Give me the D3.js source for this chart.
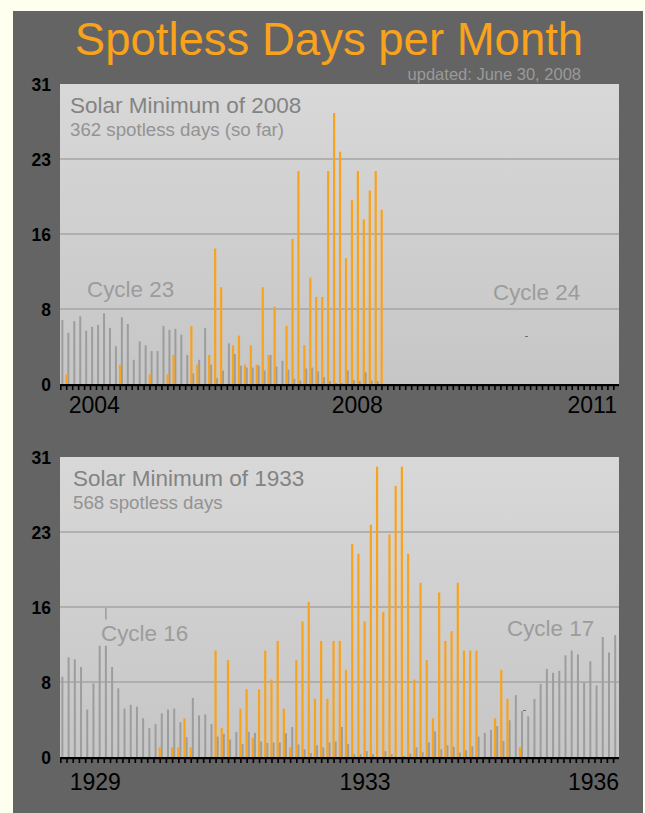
<!DOCTYPE html>
<html>
<head>
<meta charset="utf-8">
<script src="https://cdn.jsdelivr.net/npm/d3@7"></script>
<style>
  body { margin: 0; background: #fffff0; }
  svg { display: block; font-family: "Liberation Sans", Arial, sans-serif; }
</style>
</head>
<body>
<svg id="chart" width="645" height="813"></svg>
<script>
// spotless days per month, Jan 2004 .. Jun 2008
const spotless2008 = [1,0,0,0,0,0,0,0,0,2, 0,0,0,0,1,0,0,1,3,0, 0,6,2,0,3,14,10,0,4,5,
  2,4,2,10,3,8,0,6,15,22, 4,11,9,9,22,28,24,13,19,22, 17,20,22,18]
// monthly sunspot level (grey bars), same months, in chart units
const sunspots2008 = [6.6,5.3,6.5,7.0,5.5,5.9,6.1,7.3,5.8,3.9, 6.9,6.2,2.5,4.4,4.0,3.4,3.4,6.0,5.6,5.7,
  5.1,3.0,1.1,2.5,5.8,2.0,0.6,1.4,4.2,3.1, 1.9,1.7,1.7,1.9,1.4,3.0,1.8,2.4,1.5,0.55,
  0.35,1.6,1.7,1.3,0.7,0.3,0.1,0.1,1.4,0.4, 0.3,1.2,0.35,0.3]

// Jan 1929 .. Jun 1936
const spotless1933 = [0,0,0,0,0,0,0,0,0,0, 0,0,0,0,0,1,0,1,1,4, 1,0,0,0,11,3,10,0,5,7,
  2,7,11,8,12,5,1,10,14,16, 6,12,6,12,12,9,22,21,14,24, 30,15,23,28,30,21,8,18,10,4,
  17,12,13,18,11,11,11,0,0,4, 9,6,0,1,0,0,0,0,0,0, 0,0,0,0,0,0,0,0,0,0]
const sunspots1933 = [8.3,10.3,10.1,9.3,4.9,7.6,11.5,11.5,9.3,7.1, 5.0,5.4,5.2,4.0,3.0,3.4,4.5,4.9,5.0,3.6,
  2.05,6.1,4.3,4.4,3.4,2.1,2.4,1.8,2.6,1.35, 2.6,2.5,1.6,1.45,1.5,1.5,2.45,3.1,1.3,0.8,
  0.4,1.2,1.0,1.5,1.6,3.1,1.35,0.3,0.3,0.6, 0.3,0,0.6,0.3,0,0.1,0.35,1.0,0.5,1.5,
  2.65,0.8,1.2,1.05,0.45,0.7,1.1,2.1,2.5,2.8, 3.2,1.65,3.8,6.4,4.75,4.2,6.0,7.55,9.1,8.7,
  8.9,10.5,11.0,10.6,7.7,9.9,7.4,12.4,10.8,12.6]

const yTicks = [0, 7.75, 15.5, 23.25, 31]
const yTickLabels = ["0", "8", "16", "23", "31"]
const yearLabels2008 = ["2004", "2008", "2011"]
const yearLabels1933 = ["1929", "1933", "1936"]

const svg = d3.select('#chart')
const orange = '#f9a21c', grey = '#9d9d9d'

svg.append('rect').attr('x', 13).attr('y', 11).attr('width', 630).attr('height', 810)
  .attr('fill', '#646464')

const grad = svg.append('defs').append('linearGradient')
  .attr('id', 'bg').attr('x1', 0).attr('y1', 0).attr('x2', 0).attr('y2', 1)
grad.append('stop').attr('offset', '0%').attr('stop-color', '#d8d8d8')
grad.append('stop').attr('offset', '100%').attr('stop-color', '#c6c6c6')

svg.append('text').attr('x', 329).attr('y', 55).attr('text-anchor', 'middle')
  .attr('font-size', 45.5).attr('fill', orange).text('Spotless Days per Month')
svg.append('text').attr('x', 581).attr('y', 80).attr('text-anchor', 'end')
  .attr('font-size', 16.5).attr('fill', '#9a9a9a').text('updated: June 30, 2008')

function panel(opt) {
  const months = d3.timeMonths(opt.start, opt.end)
  const x = d3.scaleBand().domain(d3.range(months.length)).range([60, 619])
  const y = d3.scaleLinear().domain([0, 31]).range([opt.top + 300, opt.top])
  const bw = x.bandwidth()
  const g = svg.append('g')

  g.append('rect').attr('x', 60).attr('y', opt.top).attr('width', 559).attr('height', 300)
    .attr('fill', 'url(#bg)')

  g.selectAll('.grid').data(yTicks.slice(1, 4)).join('line')
    .attr('x1', 60).attr('x2', 619)
    .attr('y1', d => y(d)).attr('y2', d => y(d))
    .attr('stroke', '#a4a4a4').attr('stroke-width', 1.5)

  g.selectAll('.ylab').data(yTicks).join('text')
    .attr('x', 51).attr('y', d => y(d) + 7)
    .attr('text-anchor', 'end').attr('font-size', 17.5).attr('font-weight', 'bold')
    .attr('fill', '#000')
    .text((d, i) => yTickLabels[i])

  // headings
  g.append('text').attr('x', opt.titleX).attr('y', opt.top + 29).attr('font-size', 22.5)
    .attr('fill', '#838383').text(opt.title)
  g.append('text').attr('x', opt.titleX).attr('y', opt.top + 52).attr('font-size', 18.7)
    .attr('fill', '#939393').text(opt.subtitle)
  opt.cycles.forEach(c => {
    g.append('text').attr('x', c.x).attr('y', c.y).attr('font-size', 22.4)
      .attr('fill', '#9c9c9c').text(c.label)
  })

  g.selectAll('.grey').data(opt.grey).join('rect')
    .attr('x', (d, i) => x(i) + 1.4).attr('width', 2)
    .attr('y', d => y(d)).attr('height', d => y(0) - y(d))
    .attr('fill', grey)

  g.selectAll('.orange').data(opt.orange).join('rect')
    .attr('x', (d, i) => x(i) + 5.4).attr('width', 2.2)
    .attr('y', d => y(d)).attr('height', d => y(0) - y(d))
    .attr('fill', orange)

  // baseline with monthly ticks
  g.append('rect').attr('x', 60).attr('y', y(0)).attr('width', 559).attr('height', 2.2)
    .attr('fill', '#000')
  g.selectAll('.tick').data(months).join('rect')
    .attr('x', (d, i) => x(i)).attr('y', y(0)).attr('width', 1.6).attr('height', 6)
    .attr('fill', '#000')

  g.selectAll('.xlab').data(opt.years).join('text')
    .attr('x', (d, i) => 60 + opt.yearPos[i] * bw)
    .attr('y', opt.top + 329 + opt.labelShift)
    .attr('text-anchor', 'middle').attr('font-size', 23).attr('fill', '#000')
    .text(d => d)

  if (opt.marker != null) {
    g.append('line')
      .attr('x1', x(opt.marker) + 2.4).attr('x2', x(opt.marker) + 2.4)
      .attr('y1', y(14.2)).attr('y2', y(15.4))
      .attr('stroke', grey).attr('stroke-width', 1.6)
  }
  g.append('rect').attr('x', opt.dot[0]).attr('y', opt.dot[1]).attr('width', 3).attr('height', 1)
    .attr('fill', '#707070')
}

panel({
  start: new Date(2004, 0, 1), end: new Date(2011, 10, 1), top: 84,
  orange: spotless2008, grey: sunspots2008,
  title: 'Solar Minimum of 2008', subtitle: '362 spotless days (so far)', titleX: 70,
  cycles: [{label: 'Cycle 23', x: 87, y: 297}, {label: 'Cycle 24', x: 493, y: 300}],
  years: yearLabels2008, yearPos: [5.77, 50.0, 89.5], labelShift: 0,
  marker: null, dot: [525, 336]
})

panel({
  start: new Date(1929, 0, 1), end: new Date(1936, 6, 1), top: 457,
  orange: spotless1933, grey: sunspots1933,
  title: 'Solar Minimum of 1933', subtitle: '568 spotless days', titleX: 73,
  cycles: [{label: 'Cycle 16', x: 101, y: 641}, {label: 'Cycle 17', x: 507, y: 636}],
  years: yearLabels1933, yearPos: [5.68, 49.1, 85.9], labelShift: 4,
  marker: 7, dot: [523, 710]
})
</script>
</body>
</html>
